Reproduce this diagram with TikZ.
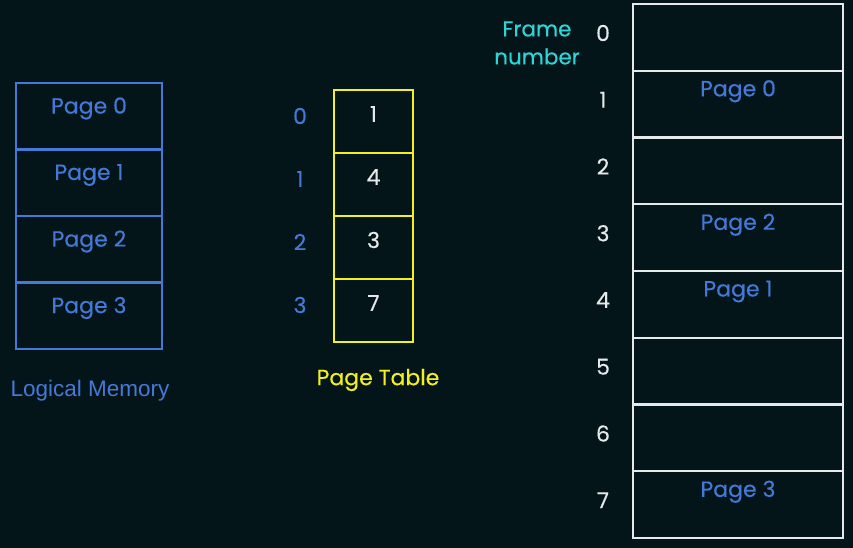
\documentclass[tikz,border=0pt]{standalone}
\usepackage{fontspec}
\setmainfont{Poppins}[FakeBold=0.3]
\newfontfamily\arialfont{Liberation Sans}
\definecolor{bg}{HTML}{04151A}
\definecolor{lblue}{HTML}{4479D8}
\definecolor{tyellow}{HTML}{F2F01E}
\definecolor{fwhite}{HTML}{E6E9EA}
\definecolor{fcyan}{HTML}{2CD6D8}
\tikzset{
  lcell/.style={draw=lblue, line width=2.4pt, minimum width=146pt, minimum height=66.5pt, inner sep=0pt},
  tcell/.style={draw=tyellow, line width=2.4pt, minimum width=79pt, minimum height=63pt, inner sep=0pt},
  pcell/.style={draw=fwhite, line width=2.2pt, minimum width=210pt, minimum height=66.75pt, inner sep=0pt},
  btxt/.style={text=lblue, font=\fontsize{22}{26}\selectfont, inner sep=0pt},
  wtxt/.style={text=fwhite, font=\fontsize{22}{26}\selectfont, inner sep=0pt},
}
\begin{document}
\begin{tikzpicture}[x=1pt,y=-1pt]
\fill[bg] (0,0) rectangle (853,548);
\useasboundingbox (0,0) rectangle (853,548);
% logical memory
\foreach \i in {0,...,3} {
  \node[lcell] (l\i) at (89,{83+66.5*\i+33.25}) {};
  \node[btxt] (lt\i) at (89,{83+66.5*\i+25.5}) {Page \i};
}
\node[text=lblue, font=\arialfont\fontsize{22.5}{26}\selectfont, inner sep=0pt] (lmlabel) at (90,391) {Logical Memory};
% page table
\foreach \i/\v in {0/1,1/4,2/3,3/7} {
  \node[tcell] (t\i) at (373.5,{90+63*\i+31.5}) {};
  \node[wtxt] (tv\i) at (373.5,{90+63*\i+24}) {\v};
  \node[btxt] (ti\i) at (300,{90+63*\i+26}) {\i};
}
\node[text=tyellow, font=\fontsize{22}{26}\selectfont, inner sep=0pt] (ptlabel) at (378,380) {Page Table};
% physical memory
\foreach \i in {0,...,7} {
  \node[pcell] (p\i) at (738,{4+66.75*\i+33.375}) {};
  \node[wtxt] (f\i) at (603,{4+66.75*\i+29}) {\i};
}
\node[btxt] (pp1) at (738,{4+66.75*1+20.5}) {Page 0};
\node[btxt] (pp3) at (738,{4+66.75*3+20.5}) {Page 2};
\node[btxt] (pp4) at (738,{4+66.75*4+20.5}) {Page 1};
\node[btxt] (pp7) at (738,{4+66.75*7+20.5}) {Page 3};
\node[text=fcyan, font=\fontsize{21.5}{28}\selectfont, align=center, inner sep=0pt] (fnlabel) at (537,43) {Frame\\number};
\end{tikzpicture}
\end{document}
